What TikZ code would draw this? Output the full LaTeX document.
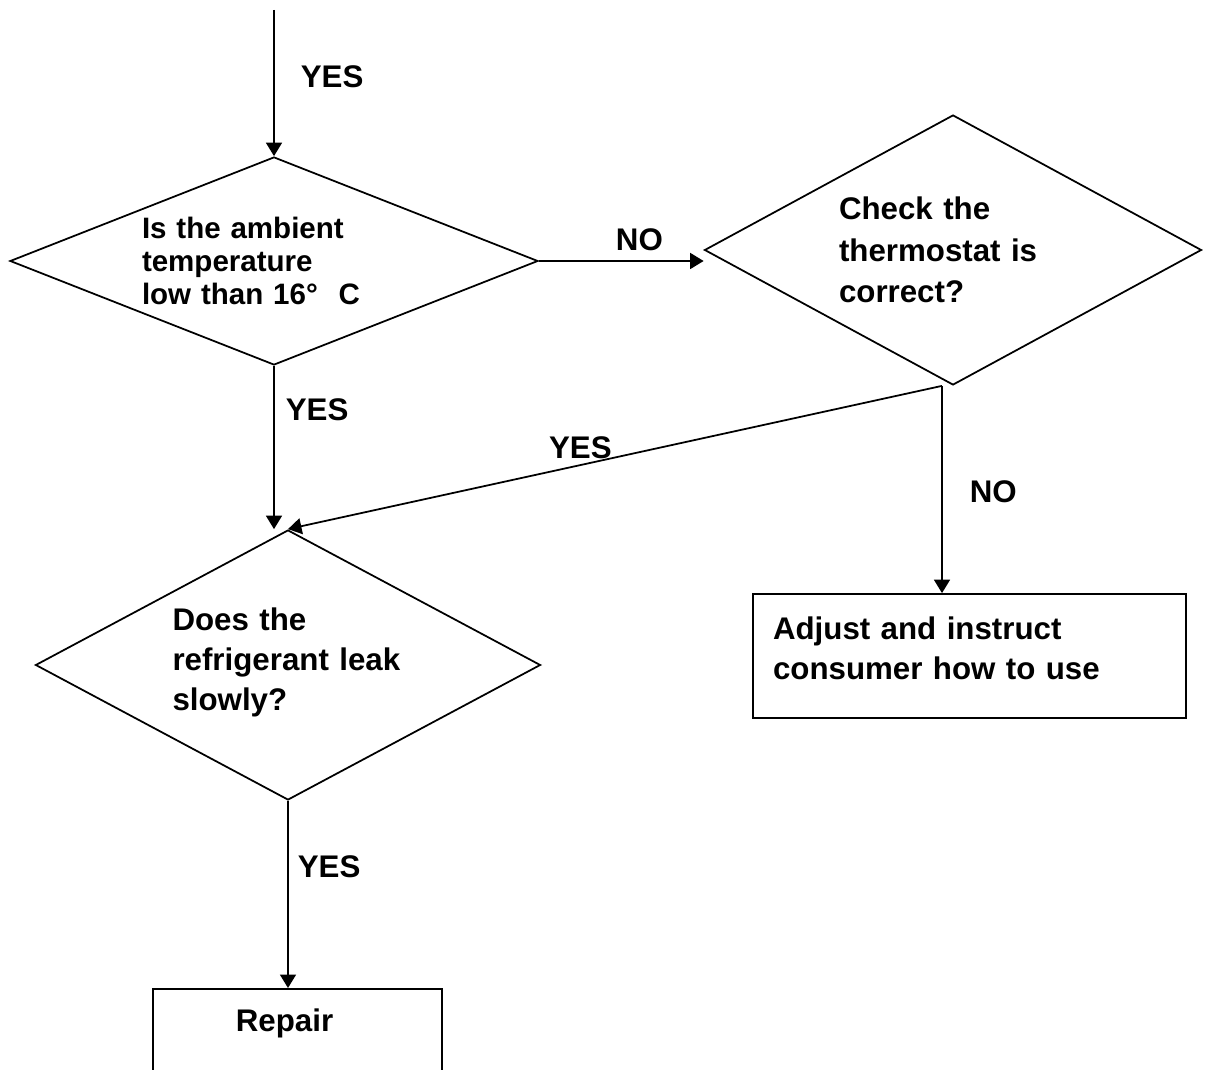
\documentclass[tikz,border=0pt]{standalone}
\usepackage{fontspec}
\setmainfont{Liberation Sans}
\usetikzlibrary{shapes.geometric,arrows.meta,positioning}

\tikzset{
  decision/.style={diamond, draw, inner sep=0pt, align=left},
  process/.style={rectangle, draw, inner xsep=0.4cm, align=left},
  lbl/.style={inner sep=0pt}
}

\begin{document}
\begin{tikzpicture}[>={Triangle[length=0.27cm,width=0.32cm]}, line width=1pt,
    font=\bfseries\fontsize{17.8}{22.7}\selectfont]
    \useasboundingbox (0,0) rectangle (24.22,-21.4);
    \coordinate (start) at (5.48,-0.2);
    \node[decision, aspect=2.54, minimum width=10.56cm, minimum height=4.16cm, text width=5.28cm,
        font=\bfseries\fontsize{16.8}{18.7}\selectfont]
        (ambient) at (5.48,-5.22) {Is the ambient\\temperature\\low than 16°\hspace{0.7em}C};
    \node[decision, aspect=1.84, minimum width=9.94cm, minimum height=5.4cm, text width=4.56cm,
        font=\bfseries\fontsize{17.8}{23.8}\selectfont]
        (thermo) at (19.06,-5.0) {Check the\\thermostat is\\correct?};
    \node[decision, aspect=1.87, minimum width=10.1cm, minimum height=5.4cm, text width=4.62cm]
        (leak) at (5.76,-13.3) {Does the\\refrigerant leak\\slowly?\\[-0.55cm]\mbox{}};
    \node[process, minimum width=8.66cm, minimum height=2.48cm, text width=7.86cm]
        (adjust) at (19.39,-13.12) {Adjust and instruct\\consumer how to use\\[-0.48cm]\mbox{}};
    \node[process, anchor=north, minimum width=5.78cm, inner ysep=0.22cm, text height=0.64cm, text depth=2cm]
        (repair) at (5.95,-19.76) {Repair\hspace{0.52cm}};
    \coordinate (split) at ([xshift=-0.22cm]thermo.south);
    \path[->]
    (start) edge node[lbl, pos=0.46, right=0.52cm] {YES} (ambient)
    (ambient.east) edge node[lbl, pos=0.61, above=0.18cm] {NO} (ambient.east -| thermo.west)
    (ambient.south) edge node[lbl, pos=0.27, right=0.22cm] {YES} (ambient.south |- leak.north)
    (split) edge node[lbl, pos=0.553, above=0.1cm] {YES} (leak.north)
        edge node[lbl, pos=0.51, right=0.54cm] {NO} (split |- adjust.north)
    (leak.south) edge node[lbl, pos=0.35, right=0.18cm] {YES} (leak.south |- repair.north);
\end{tikzpicture}
\end{document}
